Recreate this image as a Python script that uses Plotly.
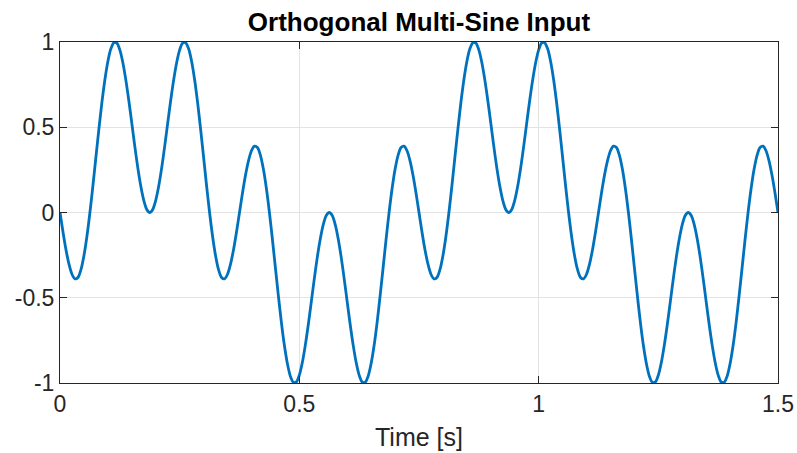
import plotly.graph_objects as go

# Time samples every 1/160 s (0 .. 1.5 s)
time_s = [k / 160 for k in range(241)]

# Signal values (normalized amplitude)
signal = [
    0.000, -0.114, -0.218, -0.303, -0.362, -0.389, -0.381, -0.335, -0.253, -0.139,
    0.000, 0.157, 0.324, 0.489, 0.644, 0.779, 0.886, 0.960, 0.996, 0.994,
    0.954, 0.880, 0.778, 0.657, 0.524, 0.389, 0.263, 0.155, 0.071, 0.018,
    0.000, 0.018, 0.071, 0.155, 0.263, 0.389, 0.524, 0.657, 0.778, 0.880,
    0.954, 0.994, 0.996, 0.960, 0.886, 0.779, 0.644, 0.489, 0.324, 0.157,
    0.000, -0.139, -0.253, -0.335, -0.381, -0.389, -0.362, -0.303, -0.218, -0.114,
    0.000, 0.114, 0.218, 0.303, 0.362, 0.389, 0.381, 0.335, 0.253, 0.139,
    0.000, -0.157, -0.324, -0.489, -0.644, -0.779, -0.886, -0.960, -0.996, -0.994,
    -0.954, -0.880, -0.778, -0.657, -0.524, -0.389, -0.263, -0.155, -0.071, -0.018,
    0.000, -0.018, -0.071, -0.155, -0.263, -0.389, -0.524, -0.657, -0.778, -0.880,
    -0.954, -0.994, -0.996, -0.960, -0.886, -0.779, -0.644, -0.489, -0.324, -0.157,
    0.000, 0.139, 0.253, 0.335, 0.381, 0.389, 0.362, 0.303, 0.218, 0.114,
    0.000, -0.114, -0.218, -0.303, -0.362, -0.389, -0.381, -0.335, -0.253, -0.139,
    0.000, 0.157, 0.324, 0.489, 0.644, 0.779, 0.886, 0.960, 0.996, 0.994,
    0.954, 0.880, 0.778, 0.657, 0.524, 0.389, 0.263, 0.155, 0.071, 0.018,
    0.000, 0.018, 0.071, 0.155, 0.263, 0.389, 0.524, 0.657, 0.778, 0.880,
    0.954, 0.994, 0.996, 0.960, 0.886, 0.779, 0.644, 0.489, 0.324, 0.157,
    0.000, -0.139, -0.253, -0.335, -0.381, -0.389, -0.362, -0.303, -0.218, -0.114,
    0.000, 0.114, 0.218, 0.303, 0.362, 0.389, 0.381, 0.335, 0.253, 0.139,
    0.000, -0.157, -0.324, -0.489, -0.644, -0.779, -0.886, -0.960, -0.996, -0.994,
    -0.954, -0.880, -0.778, -0.657, -0.524, -0.389, -0.263, -0.155, -0.071, -0.018,
    0.000, -0.018, -0.071, -0.155, -0.263, -0.389, -0.524, -0.657, -0.778, -0.880,
    -0.954, -0.994, -0.996, -0.960, -0.886, -0.779, -0.644, -0.489, -0.324, -0.157,
    0.000, 0.139, 0.253, 0.335, 0.381, 0.389, 0.362, 0.303, 0.218, 0.114,
    0.000,
]

x_ticks = [0, 0.5, 1, 1.5]
x_tick_labels = ["0", "0.5", "1", "1.5"]
y_ticks = [-1, -0.5, 0, 0.5, 1]
y_tick_labels = ["-1", "-0.5", "0", "0.5", "1"]

title_text = "Orthogonal Multi-Sine Input"
x_label = "Time [s]"

FONT = "Liberation Sans, Arial, Helvetica, sans-serif"
AX = "#262626"
GRID = "#e3e3e3"

fig = go.Figure()
fig.add_trace(go.Scatter(
    x=time_s, y=signal, mode="lines",
    line=dict(color="#0072BD", width=2.8, shape="spline", smoothing=0.8),
    hoverinfo="skip", showlegend=False,
))

fig.update_layout(
    width=797, height=453,
    margin=dict(l=60, r=19, t=42, b=70),
    paper_bgcolor="white", plot_bgcolor="white",
    font=dict(family=FONT, color=AX, size=23),
    title=dict(
        text="<b>" + title_text + "</b>",
        x=(60 + 778) / 2 / 797, xanchor="center",
        y=1 - 22 / 453, yanchor="middle", yref="container",
        font=dict(family=FONT, size=26, color="black"),
    ),
    showlegend=False,
)

fig.update_xaxes(
    range=[0, 1.5], tickvals=x_ticks, ticktext=x_tick_labels,
    showline=True, linecolor=AX, linewidth=1, mirror="ticks",
    ticks="inside", ticklen=7, tickcolor=AX, tickwidth=1,
    showgrid=True, gridcolor=GRID, gridwidth=1, zeroline=False,
    tickfont=dict(family=FONT, size=23, color=AX),
    title=dict(text=x_label, font=dict(family=FONT, size=25, color=AX), standoff=12),
    automargin=False,
)
fig.update_yaxes(
    range=[-1, 1], tickvals=y_ticks, ticktext=y_tick_labels,
    showline=True, linecolor=AX, linewidth=1, mirror="ticks",
    ticks="inside", ticklen=7, tickcolor=AX, tickwidth=1,
    showgrid=True, gridcolor=GRID, gridwidth=1, zeroline=False,
    tickfont=dict(family=FONT, size=23, color=AX),
    automargin=False,
)

fig.write_html("out.html")
